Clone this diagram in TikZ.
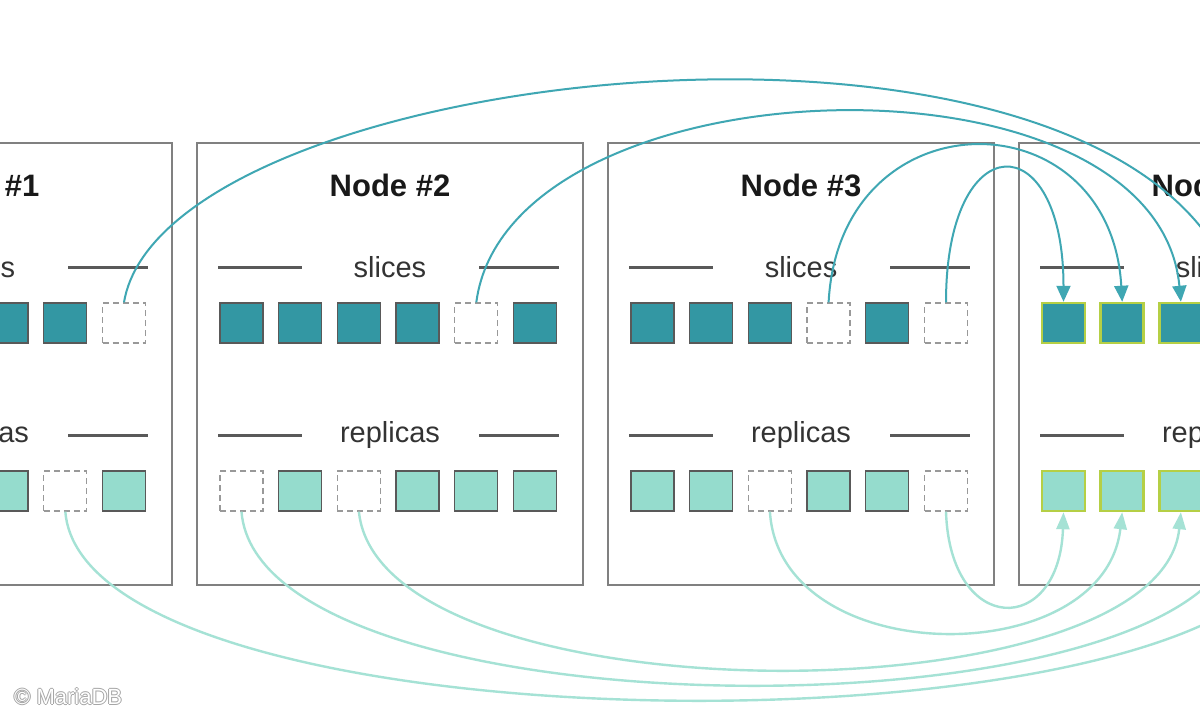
\documentclass[tikz,border=0pt]{standalone}
\usepackage{fontspec}
\setmainfont{Liberation Sans}
\usetikzlibrary{arrows.meta}
\definecolor{sliceteal}{HTML}{3397A3}
\definecolor{replicamint}{HTML}{95DCCD}
\definecolor{tealline}{HTML}{3FA7B3}
\definecolor{mintline}{HTML}{A5E2D5}
\definecolor{newborder}{HTML}{B5CF45}
\definecolor{framegray}{HTML}{808080}
\tikzset{
  nodebox/.style={draw=framegray,line width=2pt,minimum width=386pt,minimum height=442pt,inner sep=0pt},
  nodetitle/.style={font=\bfseries\fontsize{31}{36}\selectfont,text=black!90,inner sep=0pt},
  rowlabel/.style={font=\fontsize{29}{34}\selectfont,text=black!80,inner sep=0pt},
  rule/.style={draw=black!65,line width=3pt},
  slot/.style={minimum width=43pt,minimum height=40pt,inner sep=0pt},
  slice/.style={slot,draw=black!65,line width=1.3pt,fill=sliceteal},
  replica/.style={slot,draw=black!65,line width=1.3pt,fill=replicamint},
  empty/.style={slot,draw=black!40,line width=1.3pt,dash pattern=on 6pt off 4pt},
  newslice/.style={slot,draw=newborder,line width=2.5pt,fill=sliceteal},
  newreplica/.style={slot,draw=newborder,line width=2.5pt,fill=replicamint},
  sliceflow/.style={draw=tealline,line width=2pt,-{Triangle[length=16pt,width=14pt]}},
  replicaflow/.style={draw=mintline,line width=2.4pt,-{Triangle[length=17pt,width=13pt]}}
}
\begin{document}
\begin{tikzpicture}[x=1pt,y=-1pt]
  \useasboundingbox[fill=white] (0,0) rectangle (1200,720);
  \clip (0,0) rectangle (1200,720);
  % the four cluster nodes
  \foreach \k/\slc/\rep in {
      1/{slice,slice,slice,slice,slice,empty}/{replica,replica,replica,replica,empty,replica},
      2/{slice,slice,slice,slice,empty,slice}/{empty,replica,empty,replica,replica,replica},
      3/{slice,slice,slice,empty,slice,empty}/{replica,replica,empty,replica,replica,empty},
      4/{newslice,newslice,newslice,newslice,newslice,newslice}/{newreplica,newreplica,newreplica,newreplica,newreplica,newreplica}} {
    \pgfmathsetmacro\xo{-214+411*(\k-1)}
    \node[nodebox] (box\k) at (\xo+193,364) {};
    \node[nodetitle] (title\k) at (\xo+193,185) {Node \#\k};
    \node[rowlabel] (sl\k) at (\xo+193,267) {slices};
    \node[rowlabel] (rl\k) at (\xo+193,435) {replicas};
    \draw[rule] (\xo+21,267) -- (\xo+105,267);
    \draw[rule] (\xo+282,267) -- (\xo+362,267);
    \draw[rule] (\xo+21,435) -- (\xo+105,435);
    \draw[rule] (\xo+282,435) -- (\xo+362,435);
    \foreach \t [count=\i] in \slc
      \node[\t] (s\k-\i) at (\xo+44.5+58.7*\i-58.7,323) {};
    \foreach \t [count=\i] in \rep
      \node[\t] (r\k-\i) at (\xo+44.5+58.7*\i-58.7,491) {};
  }
  % slices moved to node 4
  \draw[sliceflow] (s1-6.north) .. controls +(40,-240) and +(-120,-343) .. (s4-4.north);
  \draw[sliceflow] (s2-5.north) .. controls +(32,-243) and +(-25,-263) .. (s4-3.north);
  \draw[sliceflow] (s3-4.north) .. controls +(11,-208) and +(-12,-208) .. (s4-2.north);
  \draw[sliceflow] (s3-6.north) .. controls +(0,-178) and +(0,-178) .. (s4-1.north);
  % replicas moved to node 4
  \draw[replicaflow] (r3-6.south) .. controls +(4,125) and +(-4,125) .. (r4-1.south);
  \draw[replicaflow] (r3-3.south) .. controls +(10,160) and +(-18,160) .. (r4-2.south);
  \draw[replicaflow] (r2-3.south) .. controls +(21,209) and +(-21,209) .. (r4-3.south);
  \draw[replicaflow] (r2-1.south) .. controls +(18,229) and +(-20,229) .. (r4-4.south);
  \draw[replicaflow] (r1-5.south) .. controls +(20,249) and +(-18,249) .. (r4-5.south);
  % watermark
  \foreach \dx/\dy [count=\g] in {-1/0,1/0,0/-1,0/1}
    \node[anchor=west,inner sep=0pt,text=black!35,font=\fontsize{22}{26}\selectfont] (glow\g) at (14+\dx,697+\dy) {© MariaDB};
  \node[anchor=west,inner sep=0pt,text=white,font=\fontsize{22}{26}\selectfont] (credit) at (14,697) {© MariaDB};
\end{tikzpicture}
\end{document}
